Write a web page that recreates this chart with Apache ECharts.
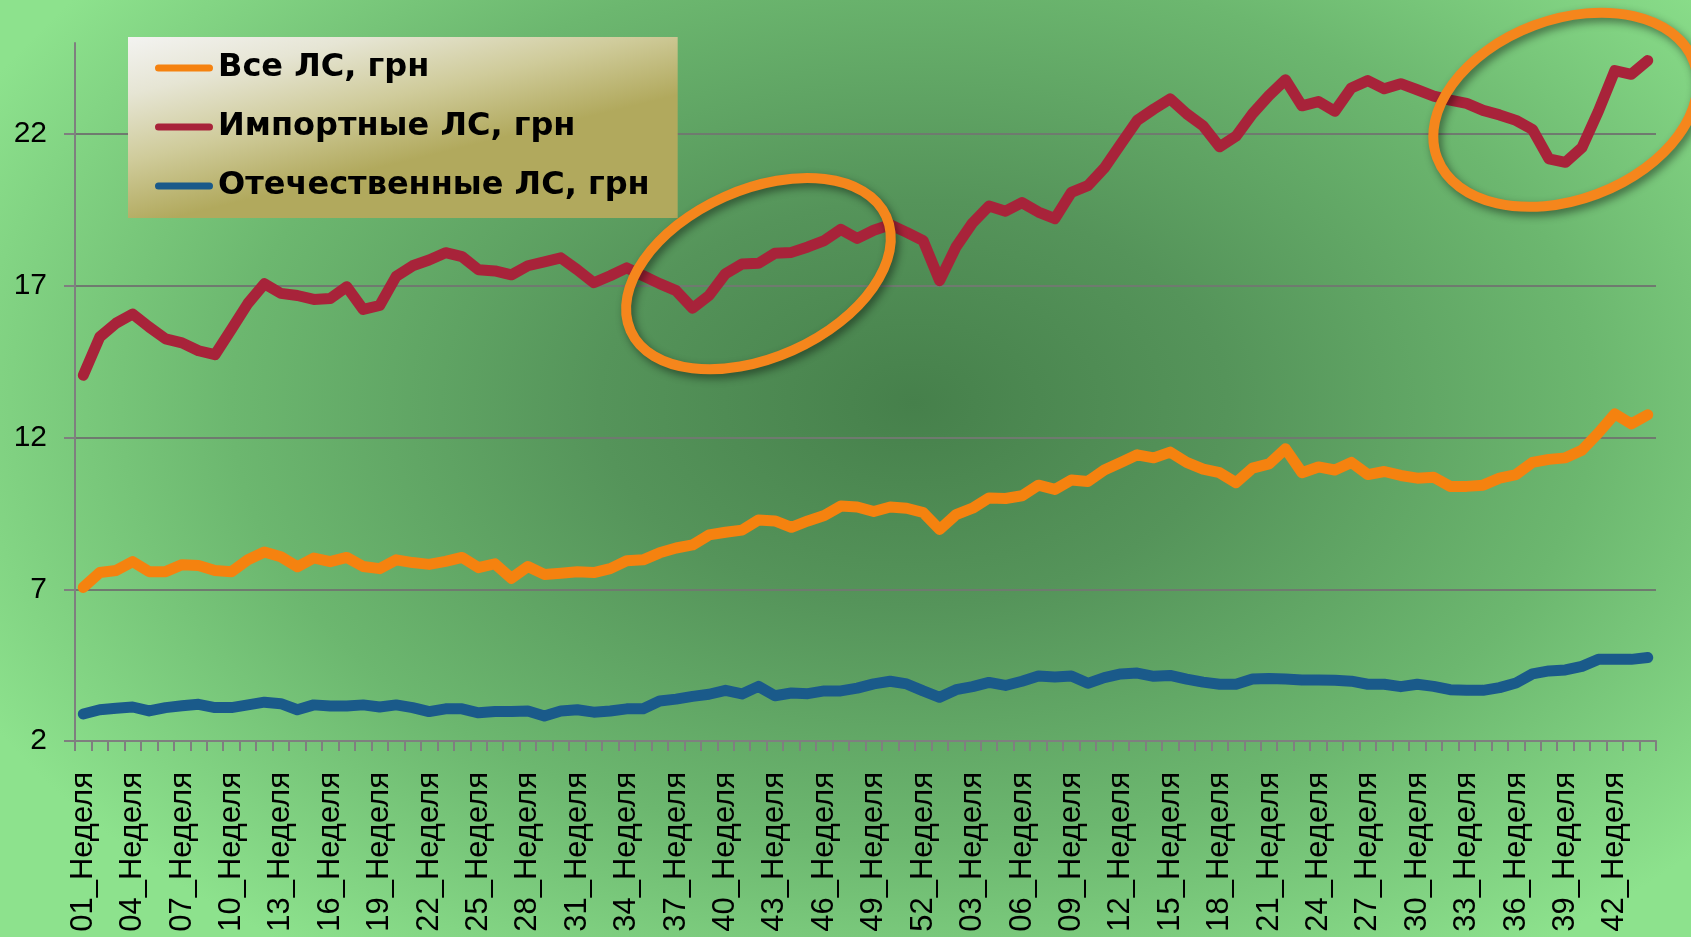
<!DOCTYPE html>
<html>
<head>
<meta charset="utf-8">
<script src="https://cdn.jsdelivr.net/npm/echarts@6/dist/echarts.min.js"></script>
<style>
  html, body { margin: 0; padding: 0; }
  #chart {
    width: 1691px;
    height: 937px;
    background: radial-gradient(ellipse 62% 72% at 54% 43%, #46804b 0%, #55945a 30%, #6cb76f 65%, #8de28d 100%);
  }
</style>
</head>
<body>
<div id="chart"></div>
<script>
// недели: 52 в первом году, 44 во втором
const weeksYear1 = 52
const weeksYear2 = 44
const categories = []
for (let w = 1; w <= weeksYear1; w++) categories.push(String(w).padStart(2, '0') + '_Неделя')
for (let w = 1; w <= weeksYear2; w++) categories.push(String(w).padStart(2, '0') + '_Неделя')

const seriesNames = ['Все ЛС, грн', 'Импортные ЛС, грн', 'Отечественные ЛС, грн']

const allDrugs = [
  7.06, 7.55, 7.62, 7.91, 7.58, 7.58, 7.81, 7.78, 7.62, 7.58,
  7.97, 8.23, 8.07, 7.74, 8.03, 7.91, 8.05, 7.75, 7.68, 7.97,
  7.88, 7.82, 7.92, 8.05, 7.71, 7.84, 7.36, 7.75, 7.49, 7.53,
  7.58, 7.55, 7.68, 7.94, 7.97, 8.20, 8.36, 8.46, 8.79, 8.88,
  8.95, 9.28, 9.25, 9.04, 9.25, 9.43, 9.74, 9.71, 9.56, 9.71,
  9.67, 9.53, 8.97, 9.46, 9.67, 10.01, 9.99, 10.08, 10.43, 10.29,
  10.60, 10.55, 10.93, 11.18, 11.43, 11.33, 11.52, 11.18, 10.96, 10.84,
  10.51, 10.99, 11.13, 11.63, 10.84, 11.03, 10.93, 11.18, 10.78, 10.88,
  10.75, 10.66, 10.69, 10.39, 10.39, 10.43, 10.66, 10.78, 11.18, 11.28,
  11.33, 11.58, 12.15, 12.78, 12.45, 12.75
]

const importDrugs = [
  14.05, 15.31, 15.77, 16.07, 15.64, 15.25, 15.12, 14.86, 14.73, 15.57,
  16.42, 17.07, 16.75, 16.68, 16.55, 16.58, 16.97, 16.22, 16.35, 17.31,
  17.66, 17.85, 18.09, 17.96, 17.53, 17.49, 17.36, 17.66, 17.79, 17.92,
  17.53, 17.10, 17.33, 17.59, 17.33, 17.07, 16.84, 16.26, 16.68, 17.40,
  17.72, 17.74, 18.07, 18.10, 18.28, 18.49, 18.86, 18.56, 18.83, 19.01,
  18.76, 18.49, 17.17, 18.28, 19.07, 19.63, 19.46, 19.74, 19.43, 19.21,
  20.08, 20.30, 20.88, 21.67, 22.45, 22.82, 23.16, 22.67, 22.27, 21.58,
  21.93, 22.67, 23.27, 23.79, 22.93, 23.07, 22.75, 23.52, 23.76, 23.49,
  23.66, 23.46, 23.25, 23.12, 23.01, 22.78, 22.63, 22.45, 22.15, 21.18,
  21.07, 21.55, 22.75, 24.09, 23.97, 24.42
]

const domesticDrugs = [
  2.89, 3.03, 3.08, 3.12, 2.99, 3.10, 3.16, 3.21, 3.10, 3.10,
  3.19, 3.28, 3.23, 3.03, 3.19, 3.15, 3.15, 3.19, 3.12, 3.19,
  3.10, 2.97, 3.06, 3.06, 2.93, 2.97, 2.97, 2.99, 2.82, 2.99,
  3.03, 2.95, 2.99, 3.06, 3.06, 3.32, 3.38, 3.47, 3.54, 3.67,
  3.55, 3.80, 3.49, 3.58, 3.56, 3.65, 3.65, 3.74, 3.88, 3.97,
  3.88, 3.65, 3.44, 3.69, 3.79, 3.93, 3.83, 3.97, 4.14, 4.11,
  4.14, 3.90, 4.09, 4.21, 4.24, 4.13, 4.16, 4.04, 3.94, 3.87,
  3.87, 4.04, 4.06, 4.04, 4.01, 4.01, 4.00, 3.97, 3.87, 3.87,
  3.79, 3.87, 3.80, 3.69, 3.67, 3.67, 3.76, 3.91, 4.21, 4.31,
  4.34, 4.46, 4.69, 4.69, 4.69, 4.75
]

// y-ось
const yMin = 2
const yMax = 25
const yStep = 5

const colors = ['#f5820f', '#a8233a', '#1a5a8a']
const fontFamily = '"Liberation Sans", Arial, sans-serif'

const chart = echarts.init(document.getElementById('chart'))

const lineSeries = (name, data, color) => ({
  name,
  type: 'line',
  data,
  symbol: 'none',
  lineStyle: { width: 11, color, cap: 'round', join: 'round' },
  itemStyle: { color },
  emphasis: { disabled: true }
})

chart.setOption({
  backgroundColor: 'transparent',
  animation: false,
  grid: { left: 75, right: 35, top: 43, bottom: 196, containLabel: false },
  legend: {
    orient: 'vertical',
    left: 128,
    top: 37,
    padding: [15, 28, 16, 27],
    itemGap: 27,
    itemWidth: 58,
    itemHeight: 7,
    icon: 'path://M3.5,0 H54.5 A3.5,3.5 0 0 1 54.5,7 H3.5 A3.5,3.5 0 0 1 3.5,0 Z',
    textStyle: { fontSize: 32, fontWeight: 'bold', color: '#000', fontFamily: '"DejaVu Sans", sans-serif' },
    backgroundColor: {
      type: 'linear', x: 0, y: 0, x2: 0.08, y2: 1,
      colorStops: [
        { offset: 0, color: '#f3f3f1' },
        { offset: 0.3, color: '#e6e5d4' },
        { offset: 0.65, color: '#cfcb9a' },
        { offset: 1, color: '#b1a95d' }
      ]
    },
    data: seriesNames
  },
  xAxis: {
    type: 'category',
    data: categories,
    boundaryGap: true,
    axisLine: { lineStyle: { color: '#7f7f7f', width: 2 } },
    axisTick: { show: true, interval: 0, length: 10, lineStyle: { color: '#7f7f7f', width: 2 } },
    axisLabel: {
      interval: 2,
      rotate: 90,
      margin: 31,
      fontSize: 31,
      color: '#000',
      fontFamily
    },
    splitLine: { show: false }
  },
  yAxis: {
    type: 'value',
    min: yMin,
    max: yMax,
    interval: yStep,
    axisLine: { show: true, lineStyle: { color: '#7f7f7f', width: 2 } },
    axisTick: { show: true, length: 11, lineStyle: { color: '#7f7f7f', width: 2 } },
    axisLabel: { margin: 28, fontSize: 30, color: '#000', fontFamily, showMaxLabel: false },
    splitLine: { show: true, showMaxLine: false, lineStyle: { color: '#6f7a6f', width: 2 } }
  },
  series: [
    lineSeries(seriesNames[0], allDrugs, colors[0]),
    lineSeries(seriesNames[1], importDrugs, colors[1]),
    lineSeries(seriesNames[2], domesticDrugs, colors[2])
  ]
})

// обводки-выделения поверх графика
const ringAt = (idx, val, rx, ry, angle) => {
  const [px, py] = chart.convertToPixel({ seriesIndex: 1 }, [idx, val])
  return {
    type: 'ellipse',
    x: px,
    y: py,
    rotation: angle,
    shape: { cx: 0, cy: 0, rx, ry },
    style: {
      fill: 'none',
      stroke: '#f5861c',
      lineWidth: 10,
      shadowBlur: 8,
      shadowOffsetX: 3,
      shadowOffsetY: 4,
      shadowColor: 'rgba(0,0,0,0.45)'
    },
    z: 100
  }
}

chart.setOption({
  graphic: [
    ringAt(40.8, 17.4, 140, 84, 0.42),
    ringAt(89.8, 22.8, 137, 90, 0.36)
  ]
})
</script>
</body>
</html>
